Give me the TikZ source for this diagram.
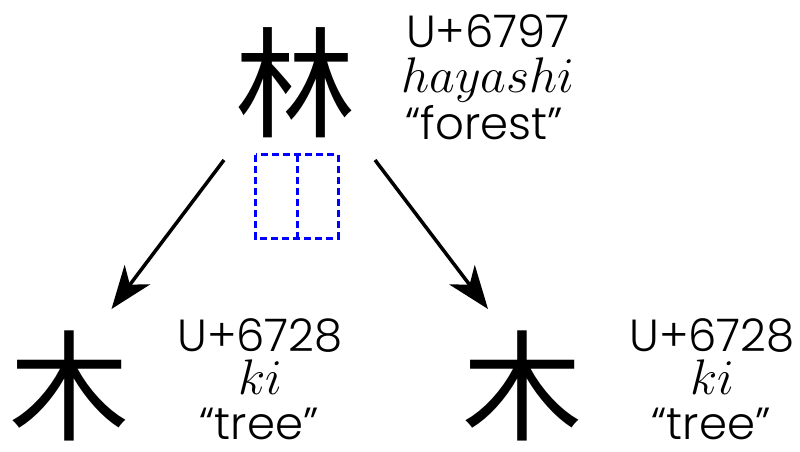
\documentclass[tikz,border=0pt]{standalone}
\usepackage{fix-cm}
\usepackage{fontspec}
\IfFontExistsTF{Poppins Light}{\newfontfamily\gothicfont{Poppins Light}}{\newfontfamily\gothicfont{Poppins}}
\newfontfamily\cjk{Noto Sans CJK JP}
\usetikzlibrary{arrows.meta}
\tikzset{
  kanji/.style={inner sep=0pt, anchor=base, font=\cjk\fontsize{120}{120}\selectfont},
  lbl/.style={inner sep=0pt, anchor=base, font=\gothicfont\fontsize{45}{46}\selectfont},
  mlbl/.style={lbl, font=\gothicfont\fontsize{50}{46}\selectfont},
  radline/.style={draw=blue, line width=2.8pt, dash pattern=on 7pt off 4pt},
  radbox/.style={minimum width=41pt, minimum height=83pt, inner sep=0pt},
  derive/.style={line width=3.5pt, -{Stealth[length=43pt,width=32pt,inset=12.5pt]}}
}
\begin{document}
\begin{tikzpicture}[x=1pt,y=-1pt]
\useasboundingbox (0,0) rectangle (800,451);
% kanji
\node[kanji] (lin) at (295,128.5) {林};
\node[kanji] (mu1) at (69.5,431.5) {木};
\node[kanji] (mu2) at (522.5,431.5) {木};
% labels
\node[lbl] (t1) at (488,47) {U+6797};
\node[mlbl] (t2) at (488,92) {$hayashi$};
\node[lbl] (t3) at (484,139) {“forest”};
\node[lbl] (l1) at (260,351) {U+6728};
\node[mlbl] (l2) at (260,394) {$ki$};
\node[lbl] (l3) at (259,439) {“tree”};
\node[lbl] (r1) at (712,351) {U+6728};
\node[mlbl] (r2) at (712,394) {$ki$};
\node[lbl] (r3) at (711,439) {“tree”};
% radical boxes
\node[radbox] (b1) at (276.5,196.5) {};
\node[radbox] (b2) at (317.5,196.5) {};
\draw[radline] (b1.north west) rectangle (b2.south east);
\draw[radline] (b1.north east) -- (b1.south east);
% arrows
\coordinate (as1) at (224,160);
\coordinate (ae1) at (111.5,309);
\coordinate (as2) at (375,160);
\coordinate (ae2) at (488,309);
\draw[derive] (as1) -- (ae1);
\draw[derive] (as2) -- (ae2);
\end{tikzpicture}
\end{document}
